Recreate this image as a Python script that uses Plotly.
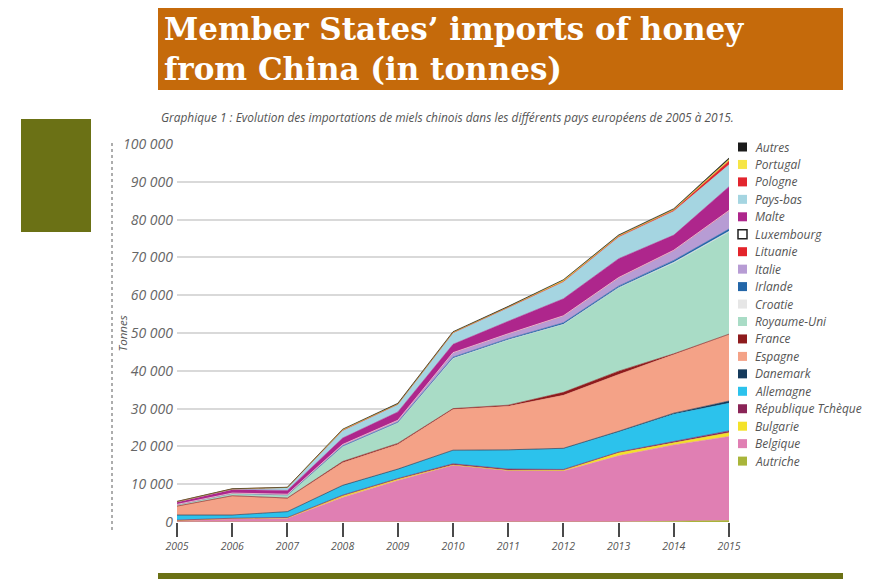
import plotly.graph_objects as go

# ---------------- data (tonnes) ----------------
years = [2005, 2006, 2007, 2008, 2009, 2010, 2011, 2012, 2013, 2014, 2015]

countries = ["Autriche", "Belgique", "Bulgarie", "République Tchèque", "Allemagne",
             "Danemark", "Espagne", "France", "Royaume-Uni", "Croatie", "Irlande",
             "Italie", "Lituanie", "Luxembourg", "Malte", "Pays-bas", "Pologne",
             "Portugal", "Autres"]

autriche = [0, 0, 0, 0, 0, 0, 0, 0, 0, 200, 400]
belgique = [400, 900, 1000, 6500, 11000, 15000, 13600, 13500, 17500, 20200, 22200]
bulgarie = [0, 0, 100, 400, 300, 100, 100, 200, 800, 500, 1000]
rep_tcheque = [100, 100, 100, 200, 200, 300, 300, 200, 200, 300, 500]
allemagne = [1300, 800, 1500, 2500, 2400, 3500, 5000, 5500, 5300, 7300, 7300]
danemark = [50, 50, 50, 100, 100, 100, 100, 100, 200, 300, 600]
espagne = [2300, 5000, 3500, 6000, 6500, 10800, 11500, 14000, 15000, 15400, 17600]
france = [50, 100, 100, 300, 300, 200, 300, 800, 900, 300, 100]
royaume_uni = [400, 600, 800, 4000, 5500, 13300, 17300, 18000, 22000, 24000, 27000]
croatie = [0, 0, 0, 0, 0, 0, 0, 0, 100, 200, 200]
irlande = [0, 0, 0, 100, 100, 300, 300, 400, 400, 500, 600]
italie = [50, 100, 200, 400, 500, 1200, 1300, 1800, 2200, 2600, 4800]
lituanie = [0, 0, 0, 0, 0, 0, 0, 50, 50, 100, 100]
luxembourg = [0, 0, 0, 0, 0, 0, 0, 0, 0, 0, 0]
malte = [600, 900, 1000, 1700, 2200, 2200, 3300, 4500, 5000, 4000, 6300]
pays_bas = [150, 200, 800, 2000, 2000, 3000, 3600, 4500, 5700, 6300, 5800]
pologne = [0, 0, 0, 50, 50, 100, 100, 100, 200, 300, 1000]
portugal = [0, 0, 0, 200, 100, 100, 100, 300, 200, 200, 400]
autres = [50, 50, 50, 100, 150, 150, 150, 150, 200, 200, 400]

series = [autriche, belgique, bulgarie, rep_tcheque, allemagne, danemark, espagne,
          france, royaume_uni, croatie, irlande, italie, lituanie, luxembourg, malte,
          pays_bas, pologne, portugal, autres]

colors = ["#a9b53a", "#e07fb3", "#f4e22a", "#8a2457", "#2cc2ec", "#163b5c", "#f4a287",
          "#8e1b1d", "#a9dcc6", "#e6e6e6", "#2366a8", "#b79cd4", "#e3242b", "#ffffff",
          "#ae268c", "#a5d5e1", "#e2252e", "#f6e546", "#1b1b1b"]

y_ticks = list(range(0, 100001, 10000))

title_text = "Member States’ imports of honey<br>from China (in tonnes)"
subtitle = ("Graphique 1 : Evolution des importations de miels chinois dans les "
            "différents pays européens de 2005 à 2015.")
y_title = "Tonnes"

# ---------------- layout geometry ----------------
W, H = 887, 580
ML, MR, MT, MB = 177, 158, 144, 58
PW, PH = W - ML - MR, H - MT - MB


def px(x):
    return (x - ML) / PW


def py(y):
    return (H - MB - y) / PH


SANS = "'Open Sans', Lato, sans-serif"
LABEL_FONT = dict(family=SANS, size=12, color="#555555", style="italic")
TITLE_FONT = dict(family="'DejaVu Serif', serif", size=31, color="white",
                  weight="bold")

fig = go.Figure()

for name, vals, col in zip(countries, series, colors):
    fig.add_trace(go.Scatter(
        x=years, y=vals, name=name, stackgroup="one", mode="lines",
        line=dict(width=0.6, color=col),
        fillcolor=col, showlegend=False, hoverinfo="x+y+name"))

shapes = []
annotations = []

# title box
shapes.append(dict(type="rect", xref="paper", yref="paper",
                   x0=px(158), x1=px(843), y0=py(90), y1=py(8),
                   fillcolor="#c56a0b", line=dict(width=0), layer="below"))
annotations.append(dict(text=title_text, xref="paper", yref="paper",
                        x=px(162), y=py(49), xanchor="left", yanchor="middle",
                        align="left", showarrow=False, font=TITLE_FONT))
# olive square & bottom line
shapes.append(dict(type="rect", xref="paper", yref="paper",
                   x0=px(21), x1=px(91), y0=py(232), y1=py(119),
                   fillcolor="#6b7115", line=dict(width=0)))
shapes.append(dict(type="rect", xref="paper", yref="paper",
                   x0=px(158), x1=px(843), y0=py(579), y1=py(573),
                   fillcolor="#6b7115", line=dict(width=0)))
# subtitle
annotations.append(dict(text=subtitle, xref="paper", yref="paper",
                        x=px(159), y=py(117), xanchor="left", yanchor="middle",
                        showarrow=False,
                        font=dict(family=SANS, size=11.9, color="#555555",
                                  style="italic")))
# y-axis title with dotted rule
shapes.append(dict(type="line", xref="paper", yref="paper",
                   x0=px(112), x1=px(112), y0=py(143), y1=py(532),
                   line=dict(color="#777777", width=1.2, dash="dot")))
annotations.append(dict(text=y_title, xref="paper", yref="paper",
                        x=px(112), y=py(334), textangle=-90, showarrow=False,
                        bgcolor="white",
                        font=dict(family=SANS, size=11.5, color="#555555",
                                  style="italic")))

# legend (top: last stacked series)
for i, idx in enumerate(range(len(countries) - 1, -1, -1)):
    yc = 147 + i * 17.45
    col = colors[idx]
    shapes.append(dict(type="rect", xref="paper", yref="paper",
                       x0=px(738), x1=px(747), y0=py(yc + 4.5), y1=py(yc - 4.5),
                       fillcolor=col,
                       line=dict(width=1.5 if col == "#ffffff" else 0,
                                 color="#222222")))
    annotations.append(dict(text=countries[idx], xref="paper", yref="paper",
                            x=px(753), y=py(yc), xanchor="left", yanchor="middle",
                            showarrow=False, font=LABEL_FONT))

fig.update_layout(
    width=W, height=H,
    margin=dict(l=ML, r=MR, t=MT, b=MB, pad=0),
    paper_bgcolor="white", plot_bgcolor="white",
    separators=". ",
    showlegend=False,
    shapes=shapes, annotations=annotations,
    xaxis=dict(range=[2005, 2015], tickvals=years, ticks="outside", ticklen=14,
               tickwidth=2, tickcolor="#4a4a4a", showgrid=False, zeroline=False,
               showline=False,
               tickfont=dict(family=SANS, size=10.5, color="#555555",
                             style="italic")),
    yaxis=dict(range=[0, 100000], tickvals=y_ticks, tickformat=",d",
               ticksuffix=" \u00a0-", showgrid=True, gridcolor="#d9d9d9",
               gridwidth=1.5, zeroline=False, showline=False, ticks="",
               ticklabelstandoff=3,
               tickfont=dict(family=SANS, size=14, color="#666666",
                             style="italic")),
)

fig.write_html("out.html")
